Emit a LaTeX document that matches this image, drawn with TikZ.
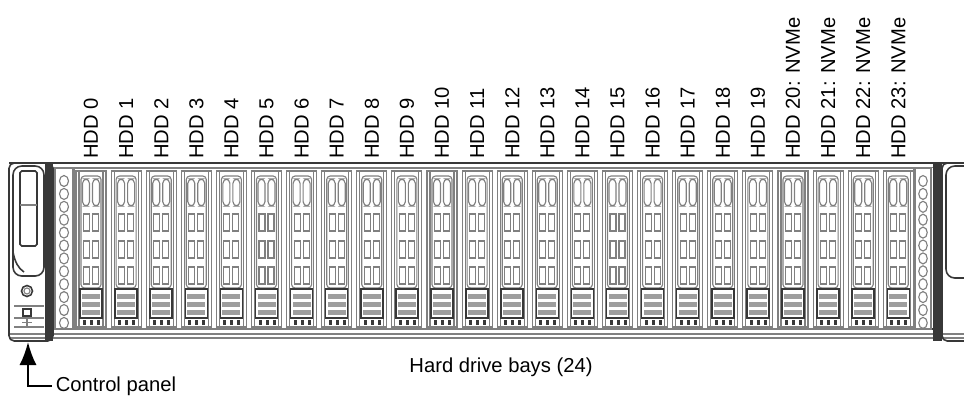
\documentclass[tikz,border=0pt]{standalone}
\usepackage{fontspec}
\setmainfont{Liberation Sans}
\usetikzlibrary{arrows.meta, positioning, calc}

\definecolor{framegray}{gray}{0.5}
\definecolor{panelgray}{gray}{0.22}
\definecolor{stripegray}{gray}{0.62}

\begin{document}
\begin{tikzpicture}[
  x=0.02cm, y=-0.02cm,
  bayline/.style = {draw=framegray, line width=0.65pt},
  darkline/.style = {draw=panelgray, line width=0.9pt},
  hddlabel/.style = {rotate=90, anchor=west, inner sep=0pt, font=\fontsize{11.5}{13}\selectfont},
  caption/.style = {inner sep=0pt, font=\fontsize{11.5}{13}\selectfont},
  arrow/.style = {line width=1.1pt, -{Latex[width=3.4mm, length=4.6mm]}}
]
  \clip (0,0) rectangle (964,397);

  % Chassis rails
  \draw[darkline] (9,163) -- (990,163);
  \draw[bayline] (53,167.5) -- (943,167.5);
  \draw[panelgray, line width=1.3pt] (53,329) -- (943,329);
  \draw[bayline] (9,334) -- (990,334);
  \draw[bayline] (9,338) -- (990,338);

  % Left ear with control panel
  \draw[darkline, rounded corners=3pt] (9,163) rectangle (53,341);
  \fill[panelgray] (45,163) rectangle (53,341);
  \draw[darkline, rounded corners=5pt] (13,166) rectangle (44,276);
  \draw[darkline] (13,252) .. controls (15,262) and (18,268) .. (24,272);
  \draw[darkline, rounded corners=1pt] (20,171) rectangle (37,246);
  \draw[bayline] (20,205) -- (37,205);
  \draw[darkline] (27,291) circle[radius=0.11cm];
  \draw[bayline] (27,291) circle[radius=0.06cm];
  \draw[bayline] (14,306) -- (44,306);
  \draw[bayline] (14,318) -- (44,318);
  \draw[bayline] (14,327) -- (44,327);
  \draw[darkline] (23,309) rectangle (31,316);
  \draw[bayline] (27,319) -- (27,326);
  \draw[bayline] (22,322.5) -- (32,322.5);

  % Left vent column
  \draw[bayline] (55,168) rectangle (73,329);
  \foreach \k in {0,...,11}
    \draw[bayline] (64,{181+12.9*\k}) ellipse[x radius=0.09cm, y radius=0.11cm];

  % Right vent column and ear
  \draw[bayline] (915,168) rectangle (931,329);
  \foreach \k in {0,...,11}
    \draw[bayline] (923,{181+12.9*\k}) ellipse[x radius=0.085cm, y radius=0.11cm];
  \fill[panelgray] (933,163) rectangle (942,341);
  \draw[darkline, rounded corners=3pt] (942,163) rectangle (990,341);
  \draw[darkline, rounded corners=5pt] (946,166) rectangle (990,278);

  % Hard drive bays
  \draw[bayline] (74,168) rectangle (914,329);
  \foreach \i in {0,...,23} {
    \pgfmathsetmacro{\L}{76+35.1*\i}
    \draw[bayline] (\L,171) rectangle ++(30,156);
    \draw[bayline] (\L+3,171) -- (\L+3,327);
    \draw[bayline] (\L+27,171) -- (\L+27,327);
    \draw[bayline, rounded corners=2pt] (\L+5,176) rectangle (\L+25,288);
    \draw[bayline, rounded corners=2.5pt] (\L+6.5,179) rectangle (\L+13.5,206);
    \draw[bayline, rounded corners=2.5pt] (\L+16.5,179) rectangle (\L+23.5,206);
    \foreach \r in {214,241,267} {
      \draw[bayline] (\L+7.5,\r) rectangle (\L+13.5,\r+17);
      \draw[bayline] (\L+16.5,\r) rectangle (\L+22.5,\r+17);
    }
    \draw[darkline, fill=white] (\L+4,289) rectangle (\L+26,318);
    \foreach \s in {294,302,310}
      \fill[stripegray] (\L+6,\s) rectangle (\L+24,\s+5);
    \foreach \f in {7,14,21}
      \fill[panelgray] (\L+\f,320) rectangle ++(3,5);
    \ifnum\i>19
      \node[hddlabel] (hdd\i) at (\L+15,159) {HDD \i: NVMe};
    \else
      \node[hddlabel] (hdd\i) at (\L+15,159) {HDD \i};
    \fi
  }

  % Captions
  \node[caption] (bays) at (501,367) {Hard drive bays (24)};
  \node[caption, anchor=west, inner xsep=2pt] (ctrl) at (52,386) {Control panel};
  \coordinate (cpanel) at (28,342);
  \draw[arrow] (ctrl.west) -| (cpanel);

\end{tikzpicture}
\end{document}
